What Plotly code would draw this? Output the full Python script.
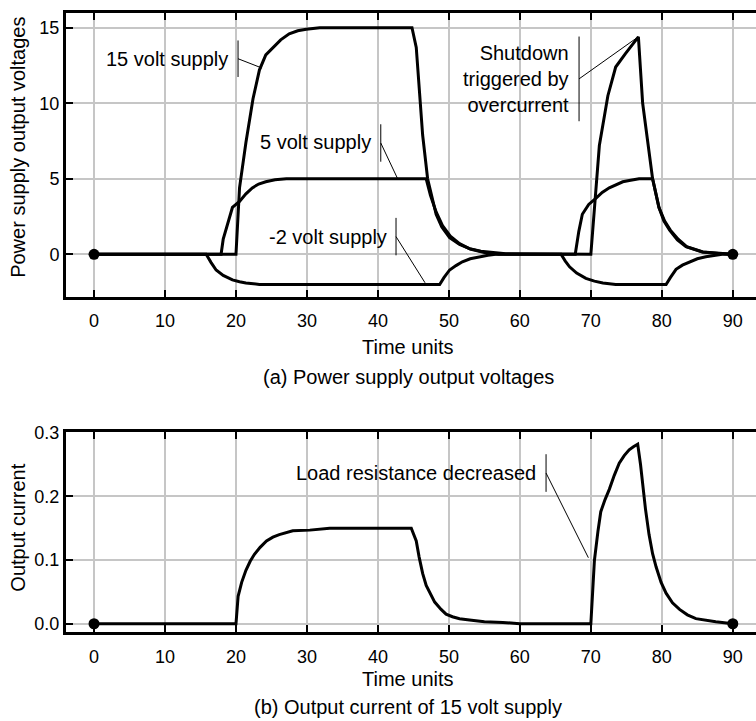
import plotly.graph_objects as go

# ---------------- data ----------------
t_15v = [0, 20, 20.5, 21.4, 22.4, 23.3, 24.2, 25.2, 26.3, 27.5, 28.7, 29.9, 31.8, 44.8, 45.4,
         46.3, 47.0, 48.2, 49.0, 50.1, 51.5, 52.9, 54.5, 56.6, 58.0, 70.0, 70.6, 71.2, 72.4,
         73.5, 74.9, 76.0, 76.7, 77.3, 78.0, 78.7, 79.6, 80.3, 81.1, 82.2, 83.4, 85.7, 88.0, 90.0]
v_15v = [0, 0, 4.4, 7.4, 10.3, 12.2, 13.2, 13.7, 14.2, 14.6, 14.8, 14.9, 15.0, 15.0, 13.7,
         7.9, 5.0, 2.65, 1.8, 1.1, 0.65, 0.37, 0.2, 0.1, 0.03, 0, 3.7, 7.2, 10.5,
         12.4, 13.3, 14.0, 14.4, 10.0, 7.3, 5.0, 3.1, 2.2, 1.6, 0.95, 0.5, 0.15, 0.05, 0]

t_5v = [0, 17.9, 18.2, 18.8, 19.5, 20.5, 21.4, 22.3, 23.2, 24.2, 25.5, 27.1, 46.8, 47.4, 48.2,
        49.1, 50.2, 51.5, 53.0, 55.0, 57.0, 67.8, 68.3, 68.8, 69.7, 70.7, 71.6, 72.6, 73.5,
        74.5, 75.6, 76.8, 78.7, 79.6, 80.4, 81.2, 82.3, 83.5, 85.8, 88.0, 90.0]
v_5v = [0, 0, 1.0, 2.0, 3.1, 3.5, 4.0, 4.4, 4.65, 4.8, 4.93, 5.0, 5.0, 3.9, 2.8,
        1.9, 1.2, 0.7, 0.35, 0.12, 0, 0, 1.5, 2.65, 3.3, 3.7, 4.1, 4.4, 4.6,
        4.8, 4.9, 5.0, 5.0, 3.1, 2.2, 1.6, 1.0, 0.5, 0.15, 0.05, 0]

t_m2v = [0, 15.8, 16.5, 17.2, 18.2, 19.5, 20.5, 21.4, 23.3, 48.7, 49.3, 50.1, 51.0, 51.9, 53.0,
         54.3, 55.5, 56.6, 65.8, 66.4, 67.0, 68.0, 69.3, 70.5, 71.7, 73.5, 80.6, 81.2, 82.0,
         82.9, 83.9, 85.0, 86.2, 87.4, 88.5, 90]
v_m2v = [0, 0, -0.55, -1.04, -1.4, -1.7, -1.82, -1.9, -2.0, -2.0, -1.55, -1.04, -0.75, -0.5, -0.3,
         -0.17, -0.07, 0, 0, -0.45, -0.83, -1.25, -1.6, -1.78, -1.9, -2.0, -2.0, -1.55, -1.0,
         -0.72, -0.5, -0.3, -0.17, -0.07, 0, 0]

t_cur = [0, 20, 20.3, 20.8, 21.4, 22.0, 22.6, 23.4, 24.3, 25.2, 26.1, 27.0, 28.0, 30.4, 33.2,
         44.7, 45.4, 45.8, 46.3, 46.8, 47.3, 48.0, 48.9, 49.6, 50.5, 51.5, 52.9, 55.0, 57.6,
         60.0, 70.0, 70.5, 71.0, 71.4, 72.0, 72.6, 73.3, 74.0, 74.7, 75.4, 76.0, 76.6, 77.0,
         77.3, 77.7, 78.2, 78.7, 79.2, 79.9, 80.6, 81.5, 82.5, 83.6, 84.8, 86.2, 87.6, 90.0]
v_cur = [0, 0, 0.043, 0.065, 0.084, 0.098, 0.109, 0.12, 0.13, 0.136, 0.14, 0.143, 0.146, 0.147, 0.15,
         0.15, 0.13, 0.105, 0.079, 0.06, 0.048, 0.034, 0.0225, 0.015, 0.011, 0.008, 0.006, 0.003, 0.002,
         0, 0, 0.099, 0.145, 0.176, 0.195, 0.211, 0.233, 0.252, 0.264, 0.273, 0.278, 0.282, 0.25,
         0.217, 0.18, 0.14, 0.11, 0.089, 0.065, 0.048, 0.033, 0.0225, 0.014, 0.008, 0.005, 0.003, 0]

end_t = [0, 90]
end_v = [0, 0]

x_ticks = [0, 10, 20, 30, 40, 50, 60, 70, 80, 90]
y_ticks_top = [0, 5, 10, 15]
y_ticks_bot = [0.0, 0.1, 0.2, 0.3]

title_top = "(a) Power supply output voltages"
title_bot = "(b) Output current of 15 volt supply"
x_title = "Time units"
y_title_top = "Power supply output voltages"
y_title_bot = "Output current"

# callout labels: text, text anchor (x, y), bar (x, y0, y1), leader end (x, y)
callouts_top = [
    ("15 volt supply", (19.2, 12.92), (20.29, 14.16, 11.74), (23.67, 12.33)),
    ("5 volt supply", (39.3, 7.44), (40.40, 8.61, 6.13), (42.74, 5.04)),
    ("-2 volt supply", (41.5, 1.17), (42.55, 2.41, -0.07), (46.64, -1.89)),
    ("Shutdown<br>triggered by<br>overcurrent", (67.2, 11.61), (68.34, 14.42, 8.81), (76.47, 14.33)),
]
callouts_bot = [
    ("Load resistance decreased", (62.6, 0.2367), (63.69, 0.2662, 0.2071), (69.65, 0.1037)),
]

FONT = "Liberation Sans, Arial, Helvetica, sans-serif"
LINE = dict(color="black", width=3)

fig = go.Figure()
for t, v in [(t_15v, v_15v), (t_5v, v_5v), (t_m2v, v_m2v)]:
    fig.add_trace(go.Scatter(x=t, y=v, mode="lines", line=LINE, xaxis="x", yaxis="y",
                             showlegend=False, hoverinfo="skip"))
fig.add_trace(go.Scatter(x=end_t, y=end_v, mode="markers", marker=dict(color="black", size=11),
                         xaxis="x", yaxis="y", showlegend=False))
fig.add_trace(go.Scatter(x=t_cur, y=v_cur, mode="lines", line=LINE, xaxis="x2", yaxis="y2",
                         showlegend=False))
fig.add_trace(go.Scatter(x=end_t, y=end_v, mode="markers", marker=dict(color="black", size=11),
                         xaxis="x2", yaxis="y2", showlegend=False))

xcommon = dict(range=[-3.95, 93.27], tickvals=x_ticks, showgrid=True, gridcolor="#c6c6c6",
               gridwidth=2, zeroline=False, showline=True, linecolor="black", linewidth=3,
               mirror="ticks", ticks="inside", ticklen=7, tickwidth=2, tickcolor="black",
               tickfont=dict(family=FONT, size=18, color="black"), ticklabelstandoff=6)
ycommon = dict(showgrid=True, gridcolor="#c6c6c6", gridwidth=2, zeroline=False, showline=True,
               linecolor="black", linewidth=3, ticks="inside", ticklen=7, tickwidth=2,
               tickcolor="black", tickfont=dict(family=FONT, size=18, color="black"))

fig.update_layout(
    width=756, height=721, autosize=False,
    margin=dict(l=66, r=0, t=0, b=0),
    plot_bgcolor="white", paper_bgcolor="white",
    xaxis=dict(**xcommon, anchor="y", domain=[0, 1]),
    yaxis=dict(**ycommon, range=[-2.8, 15.98], tickvals=y_ticks_top, domain=[0.5950, 0.9944],
               anchor="x"),
    xaxis2=dict(**xcommon, anchor="y2", domain=[0, 1]),
    yaxis2=dict(**ycommon, range=[-0.013, 0.3015], tickvals=y_ticks_bot, tickformat=".1f",
                domain=[0.1225, 0.4046], anchor="x2"),
)

anns = []
tf = dict(family=FONT, size=20, color="black")
anns.append(dict(text=x_title, xref="paper", yref="paper", x=0.4957, y=0.5242, showarrow=False,
                 font=tf, xanchor="center", yanchor="middle"))
anns.append(dict(text=title_top, xref="paper", yref="paper", x=0.4957, y=0.4820, showarrow=False,
                 font=tf, xanchor="center", yanchor="middle"))
anns.append(dict(text=x_title, xref="paper", yref="paper", x=0.4957, y=0.0569, showarrow=False,
                 font=tf, xanchor="center", yanchor="middle"))
anns.append(dict(text=title_bot, xref="paper", yref="paper", x=0.4957, y=0.0176, showarrow=False,
                 font=tf, xanchor="center", yanchor="middle"))
anns.append(dict(text=y_title_top, xref="paper", yref="paper", x=-0.0696, y=0.8058, showarrow=False,
                 font=tf, textangle=-90, xanchor="center", yanchor="middle"))
anns.append(dict(text=y_title_bot, xref="paper", yref="paper", x=-0.0696, y=0.2695, showarrow=False,
                 font=tf, textangle=-90, xanchor="center", yanchor="middle"))

shapes = []
for callouts, xr, yr in [(callouts_top, "x", "y"), (callouts_bot, "x2", "y2")]:
    for text, (tx, ty), (bx, by0, by1), (lx, ly) in callouts:
        anns.append(dict(text=text, xref=xr, yref=yr, x=tx, y=ty, showarrow=False, font=tf,
                         xanchor="right", yanchor="middle", align="right"))
        shapes.append(dict(type="line", xref=xr, yref=yr, x0=bx, x1=bx, y0=by0, y1=by1,
                           line=dict(color="black", width=1)))
        shapes.append(dict(type="line", xref=xr, yref=yr, x0=bx, x1=lx, y0=(by0 + by1) / 2, y1=ly,
                           line=dict(color="black", width=1)))

fig.update_layout(annotations=anns, shapes=shapes)
fig.write_html("out.html", config={"displayModeBar": False},
               post_script="document.body.style.margin='0px';document.body.style.overflow='hidden';")
